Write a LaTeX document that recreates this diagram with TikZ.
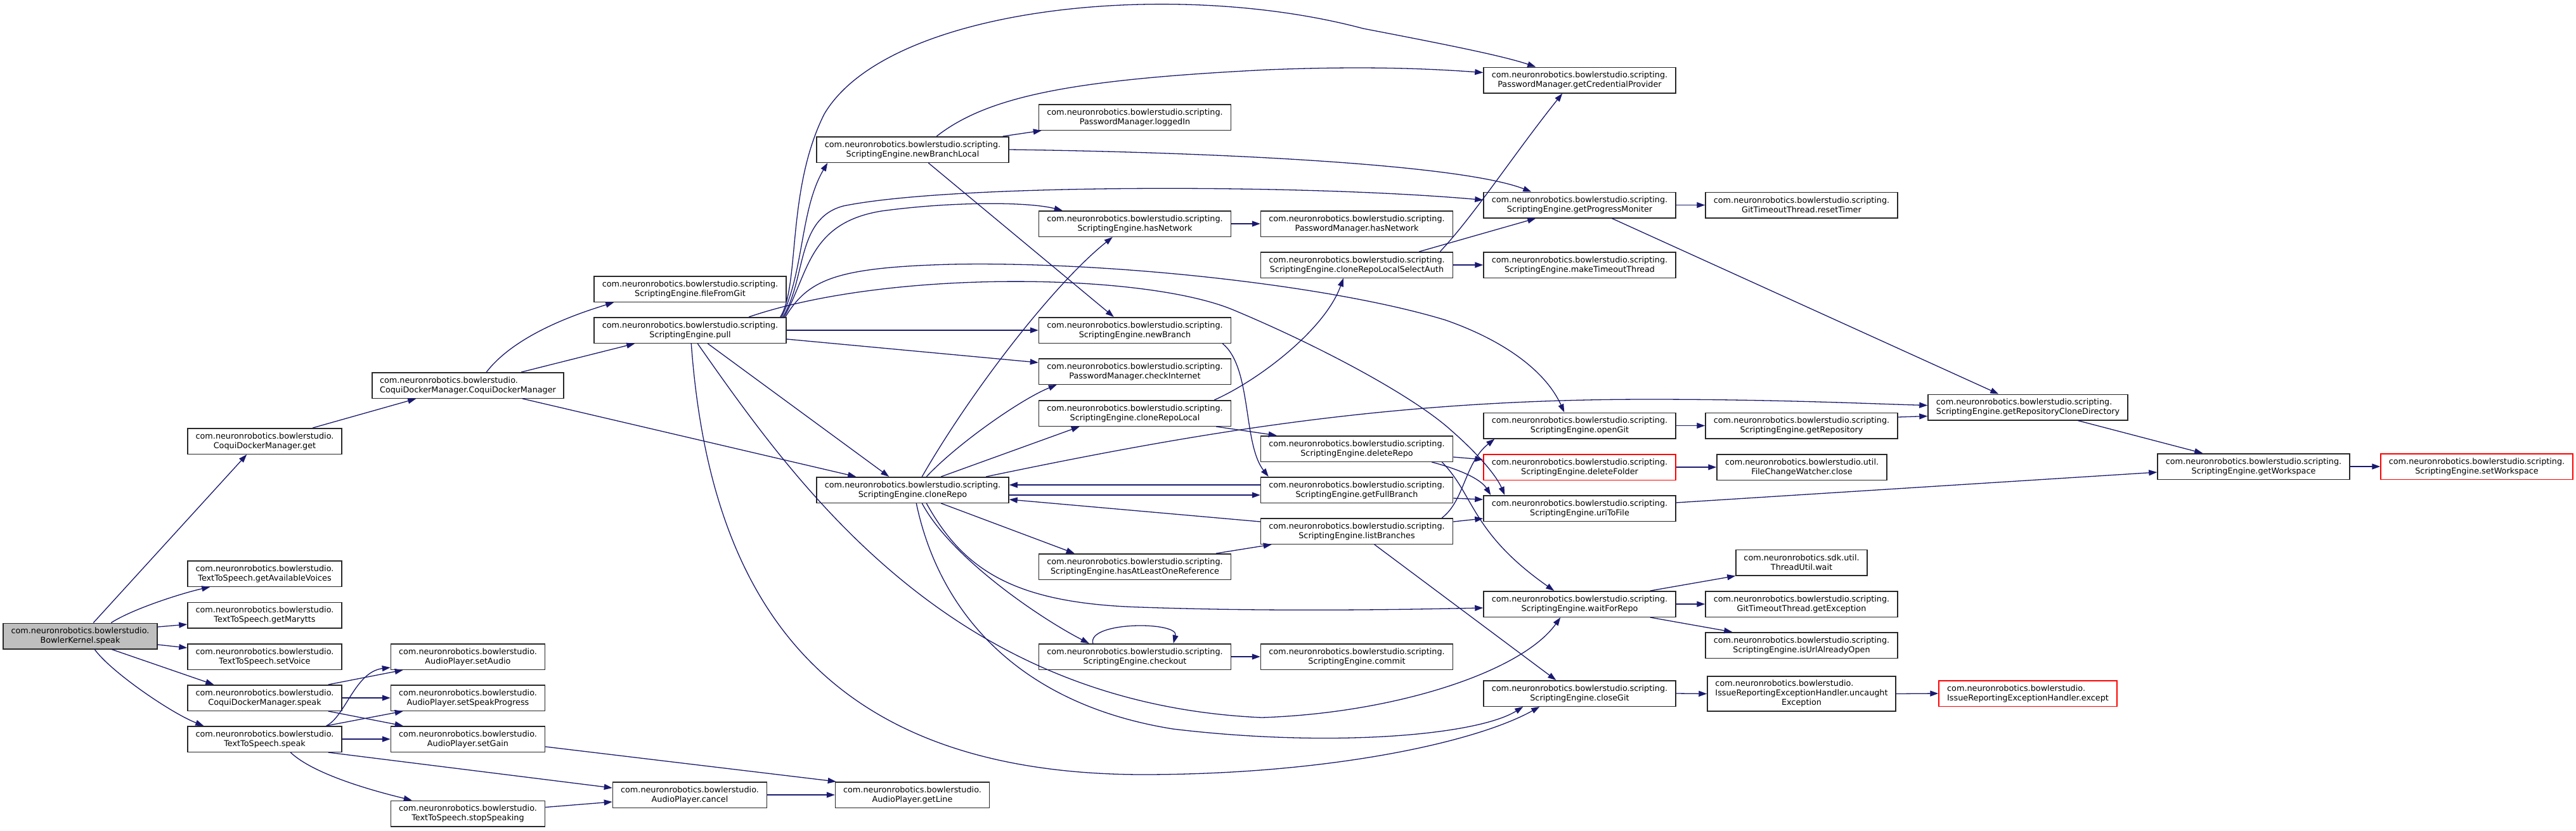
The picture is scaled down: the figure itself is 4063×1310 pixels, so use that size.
\documentclass[tikz,border=0pt]{standalone}
\usepackage{fontspec}
\setmainfont{DejaVu Sans}
\usepackage{xcolor}
\usetikzlibrary{arrows.meta}
\definecolor{edgeblue}{RGB}{25,25,112}
\definecolor{rootgray}{RGB}{191,191,191}
\definecolor{boxline}{RGB}{40,40,40}
\newcommand{\fnfont}{\fontsize{12.8}{15}\selectfont}

\begin{document}
\begin{tikzpicture}[
    x=1pt, y=-1pt,
    fn/.style={draw=boxline,line width=1.5pt,fill=white,inner sep=0pt,
               minimum height=40.5pt,align=center,font=\fnfont},
    bs/.style={fn,minimum width=243pt},
    sc/.style={fn,minimum width=303pt},
    root/.style={fill=rootgray},
    trunc/.style={draw=red},
    call/.style={edgeblue,line width=1.3pt,-{Triangle[length=13pt,width=9pt]}},
  ]

  \fill[white] (0,0) rectangle (4063,1310);
  \useasboundingbox (0,0) rectangle (4063,1310);

  % speech side
  \node[bs,root] (bk) at (126.5,1003.5) {com.neuronrobotics.bowlerstudio.\\BowlerKernel.speak};
  \node[bs] (cdmget)   at (417.5,696)    {com.neuronrobotics.bowlerstudio.\\CoquiDockerManager.get};
  \node[fn,minimum width=302pt,align=left] (cdmctor) at (738,608)
        {com.neuronrobotics.bowlerstudio.\\CoquiDockerManager.CoquiDockerManager};
  \node[bs] (voices)   at (417.5,905)    {com.neuronrobotics.bowlerstudio.\\TextToSpeech.getAvailableVoices};
  \node[bs] (marytts)  at (417.5,970.5)  {com.neuronrobotics.bowlerstudio.\\TextToSpeech.getMarytts};
  \node[bs] (setvoice) at (417.5,1036)   {com.neuronrobotics.bowlerstudio.\\TextToSpeech.setVoice};
  \node[bs] (cdmspeak) at (417.5,1101)   {com.neuronrobotics.bowlerstudio.\\CoquiDockerManager.speak};
  \node[bs] (ttsspeak) at (417.5,1166)   {com.neuronrobotics.bowlerstudio.\\TextToSpeech.speak};
  \node[bs] (setaudio) at (738,1036)     {com.neuronrobotics.bowlerstudio.\\AudioPlayer.setAudio};
  \node[bs] (setprog)  at (738,1101)     {com.neuronrobotics.bowlerstudio.\\AudioPlayer.setSpeakProgress};
  \node[bs] (setgain)  at (738,1166)     {com.neuronrobotics.bowlerstudio.\\AudioPlayer.setGain};
  \node[bs] (stopspk)  at (738,1283.5)   {com.neuronrobotics.bowlerstudio.\\TextToSpeech.stopSpeaking};
  \node[bs] (cancel)   at (1088,1254)    {com.neuronrobotics.bowlerstudio.\\AudioPlayer.cancel};
  \node[bs] (getline)  at (1439,1254)    {com.neuronrobotics.bowlerstudio.\\AudioPlayer.getLine};

  % scripting engine
  \node[sc] (fromgit)    at (1088.5,456)  {com.neuronrobotics.bowlerstudio.scripting.\\ScriptingEngine.fileFromGit};
  \node[sc] (pull)       at (1088.5,521)  {com.neuronrobotics.bowlerstudio.scripting.\\ScriptingEngine.pull};
  \node[sc] (nbl)        at (1439.5,236)  {com.neuronrobotics.bowlerstudio.scripting.\\ScriptingEngine.newBranchLocal};
  \node[sc] (clonerepo)  at (1439.5,773)  {com.neuronrobotics.bowlerstudio.scripting.\\ScriptingEngine.cloneRepo};
  \node[sc] (loggedin)   at (1790,185)    {com.neuronrobotics.bowlerstudio.scripting.\\PasswordManager.loggedIn};
  \node[sc] (hasnet)     at (1790,353)    {com.neuronrobotics.bowlerstudio.scripting.\\ScriptingEngine.hasNetwork};
  \node[sc] (newbranch)  at (1790,521)    {com.neuronrobotics.bowlerstudio.scripting.\\ScriptingEngine.newBranch};
  \node[sc] (checkinet)  at (1790,586)    {com.neuronrobotics.bowlerstudio.scripting.\\PasswordManager.checkInternet};
  \node[sc] (clonelocal) at (1790,652)    {com.neuronrobotics.bowlerstudio.scripting.\\ScriptingEngine.cloneRepoLocal};
  \node[sc] (hasref)     at (1790,894)    {com.neuronrobotics.bowlerstudio.scripting.\\ScriptingEngine.hasAtLeastOneReference};
  \node[sc] (checkout)   at (1790,1036)   {com.neuronrobotics.bowlerstudio.scripting.\\ScriptingEngine.checkout};
  \node[sc] (pmhasnet)   at (2140,353)    {com.neuronrobotics.bowlerstudio.scripting.\\PasswordManager.hasNetwork};
  \node[sc] (selauth)    at (2140,418)    {com.neuronrobotics.bowlerstudio.scripting.\\ScriptingEngine.cloneRepoLocalSelectAuth};
  \node[sc] (delrepo)    at (2140,708)    {com.neuronrobotics.bowlerstudio.scripting.\\ScriptingEngine.deleteRepo};
  \node[sc] (fullbranch) at (2140,773)    {com.neuronrobotics.bowlerstudio.scripting.\\ScriptingEngine.getFullBranch};
  \node[sc] (listbr)     at (2140,838)    {com.neuronrobotics.bowlerstudio.scripting.\\ScriptingEngine.listBranches};
  \node[sc] (commit)     at (2140,1036)   {com.neuronrobotics.bowlerstudio.scripting.\\ScriptingEngine.commit};
  \node[sc] (credprov)   at (2491.5,126.5) {com.neuronrobotics.bowlerstudio.scripting.\\PasswordManager.getCredentialProvider};
  \node[sc] (progmon)    at (2491.5,323.5) {com.neuronrobotics.bowlerstudio.scripting.\\ScriptingEngine.getProgressMoniter};
  \node[sc] (timeout)    at (2491.5,418)   {com.neuronrobotics.bowlerstudio.scripting.\\ScriptingEngine.makeTimeoutThread};
  \node[sc] (opengit)    at (2491.5,671.5) {com.neuronrobotics.bowlerstudio.scripting.\\ScriptingEngine.openGit};
  \node[sc,trunc] (delfolder) at (2491.5,737) {com.neuronrobotics.bowlerstudio.scripting.\\ScriptingEngine.deleteFolder};
  \node[sc] (uritofile)  at (2491.5,802)   {com.neuronrobotics.bowlerstudio.scripting.\\ScriptingEngine.uriToFile};
  \node[sc] (waitrepo)   at (2491.5,953)   {com.neuronrobotics.bowlerstudio.scripting.\\ScriptingEngine.waitForRepo};
  \node[sc] (closegit)   at (2491.5,1094)  {com.neuronrobotics.bowlerstudio.scripting.\\ScriptingEngine.closeGit};
  \node[sc] (resettimer) at (2841.5,323.5) {com.neuronrobotics.bowlerstudio.scripting.\\GitTimeoutThread.resetTimer};
  \node[sc] (getrepo)    at (2841.5,671.5) {com.neuronrobotics.bowlerstudio.scripting.\\ScriptingEngine.getRepository};
  \node[fn,minimum width=268pt] (fcwclose) at (2842,737) {com.neuronrobotics.bowlerstudio.util.\\FileChangeWatcher.close};
  \node[fn,minimum width=207pt] (tuwait) at (2841.5,887.5) {com.neuronrobotics.sdk.util.\\ThreadUtil.wait};
  \node[sc] (getexc)     at (2841.5,953)   {com.neuronrobotics.bowlerstudio.scripting.\\GitTimeoutThread.getException};
  \node[sc] (urlopen)    at (2841.5,1018)  {com.neuronrobotics.bowlerstudio.scripting.\\ScriptingEngine.isUrlAlreadyOpen};
  \node[fn,minimum width=297pt,minimum height=55pt] (uncaught) at (2841.5,1094.5)
        {\begin{tabular}{@{}l@{}}com.neuronrobotics.bowlerstudio.\\IssueReportingExceptionHandler.uncaught\\
         \multicolumn{1}{@{}c@{}}{Exception}\end{tabular}};
  \node[fn,minimum width=315pt,align=left] (clonedir) at (3198.5,642.5)
        {com.neuronrobotics.bowlerstudio.scripting.\\ScriptingEngine.getRepositoryCloneDirectory};
  \node[fn,minimum width=281pt,align=left,trunc] (except) at (3198.5,1094)
        {com.neuronrobotics.bowlerstudio.\\IssueReportingExceptionHandler.except};
  \node[sc] (getws)      at (3554.5,736)   {com.neuronrobotics.bowlerstudio.scripting.\\ScriptingEngine.getWorkspace};
  \node[sc,trunc] (setws) at (3906.5,736)  {com.neuronrobotics.bowlerstudio.scripting.\\ScriptingEngine.setWorkspace};

  % straight side-to-side calls
  \foreach \a/\b in {cdmspeak/setprog,ttsspeak/setgain,cancel/getline,pull/newbranch,
                     hasnet/pmhasnet,selauth/timeout,progmon/resettimer,opengit/getrepo,
                     delfolder/fcwclose,getws/setws,waitrepo/getexc,closegit/uncaught,
                     uncaught/except,checkout/commit}
    \draw[call] (\a.east) -- (\b.west);

  % BowlerKernel.speak
  \draw[call] ([xshift=143pt]bk.north west) -- ([xshift=94pt]cdmget.south west);
  \draw[call] ([xshift=171pt]bk.north west) .. controls (210,960) and (290,935) .. ([xshift=36pt]voices.south west);
  \draw[call] ([yshift=14.5pt]bk.east) -- ([yshift=-14.5pt]marytts.west);
  \draw[call] ([yshift=-13.5pt]bk.east) -- ([yshift=14pt]setvoice.west);
  \draw[call] ([xshift=172pt]bk.south west) -- ([xshift=42pt]cdmspeak.north west);
  \draw[call] ([xshift=145pt]bk.south west) .. controls (175,1060) and (270,1125) .. ([xshift=26pt]ttsspeak.north west);

  % CoquiDockerManager
  \draw[call] ([xshift=198pt]cdmget.north west) -- ([xshift=70pt]cdmctor.south west);
  \draw[call] ([xshift=181pt]cdmctor.north west) .. controls (815,525) and (920,492) .. ([xshift=32pt]fromgit.south west);
  \draw[call] ([xshift=236pt]cdmctor.north west) -- ([xshift=65pt]pull.south west);
  \draw[call] ([xshift=238pt]cdmctor.south west) -- ([xshift=63pt]clonerepo.north west);
  \draw[call] ([xshift=-22pt]cdmspeak.north east) -- ([xshift=20pt]setaudio.south west);
  \draw[call] ([xshift=-22pt]cdmspeak.south east) -- ([xshift=20pt]setgain.north west);

  % TextToSpeech.speak
  \draw[call] ([xshift=-25pt]ttsspeak.north east) .. controls (545,1130) and (560,1060) .. ([yshift=-17pt]setaudio.west);
  \draw[call] ([xshift=-25pt]ttsspeak.north east) -- ([xshift=20pt]setprog.south west);
  \draw[call] ([xshift=-22pt]ttsspeak.south east) -- ([yshift=11pt]cancel.west);
  \draw[call] ([xshift=163pt]ttsspeak.south west) .. controls (495,1222) and (590,1248) .. ([xshift=34pt]stopspk.north west);
  \draw[call] ([yshift=-12pt]setgain.east) -- ([xshift=2pt]getline.north west);
  \draw[call] ([yshift=10pt]stopspk.east) -- ([yshift=-11pt]cancel.west);

  % pull
  \draw[call] ([xshift=-10pt]pull.north east) .. controls (1262,450) and (1240,300) .. (1300,180)
              .. controls (1400,10) and (1850,-35) .. (2150,45)
              .. controls (2280,70) and (2370,88) .. ([xshift=83pt]credprov.north west);
  \draw[call] ([xshift=-8pt]pull.north east) .. controls (1268,430) and (1262,330) .. ([xshift=18pt]nbl.south west);
  \draw[call] ([xshift=-6pt]pull.north east) .. controls (1272,440) and (1255,345) .. (1330,325)
              .. controls (1500,290) and (2050,290) .. ([yshift=8pt]progmon.west);
  \draw[call] ([xshift=-4pt]pull.north east) .. controls (1276,430) and (1275,352) .. (1390,333)
              .. controls (1500,318) and (1620,318) .. ([xshift=38pt]hasnet.north west);
  \draw[call] ([xshift=-2pt]pull.north east) .. controls (1275,440) and (1320,422) .. (1500,417)
              .. controls (1750,412) and (2100,450) .. (2280,505)
              .. controls (2380,540) and (2440,590) .. ([xshift=128pt]opengit.north west);
  \draw[call] ([xshift=245pt]pull.north west) .. controls (1400,425) and (1800,430) .. (1943,488)
              .. controls (2080,545) and (2230,625) .. (2290,680)
              .. controls (2330,715) and (2360,750) .. ([xshift=34pt]uritofile.north west);
  \draw[call] ([yshift=-14pt]pull.east) -- ([yshift=14pt]checkinet.west);
  \draw[call] ([xshift=180pt]pull.south west) -- ([xshift=115pt]clonerepo.north west);
  \draw[call] ([xshift=164pt]pull.south west) .. controls (1260,770) and (1500,1110) .. (1990,1132)
              .. controls (2200,1125) and (2400,1060) .. ([xshift=122pt]waitrepo.south west);
  \draw[call] ([xshift=154pt]pull.south west) .. controls (1120,950) and (1300,1220) .. (1800,1222)
              .. controls (2100,1222) and (2330,1170) .. ([xshift=89pt]closegit.south west);

  % newBranchLocal
  \draw[call] ([xshift=190pt]nbl.north west) .. controls (1560,150) and (1700,125) .. (2000,110)
              .. controls (2150,104) and (2250,108) .. ([yshift=12pt]credprov.west);
  \draw[call] ([xshift=-10pt]nbl.north east) -- ([xshift=5pt]loggedin.south west);
  \draw[call] (nbl.east) .. controls (1900,240) and (2300,258) .. ([xshift=76pt]progmon.north west);
  \draw[call] ([xshift=177pt]nbl.south west) -- ([xshift=119pt]newbranch.north west);

  % cloneRepo
  \draw[call] ([xshift=167pt]clonerepo.north west) .. controls (1530,620) and (1660,450) .. ([xshift=117pt]hasnet.south west);
  \draw[call] ([xshift=174pt]clonerepo.north west) .. controls (1510,700) and (1610,630) .. ([xshift=29pt]checkinet.south west);
  \draw[call] ([xshift=197pt]clonerepo.north west) -- ([xshift=65pt]clonelocal.south west);
  \draw[call] ([xshift=268pt]clonerepo.north west) .. controls (1900,680) and (2200,630) .. (2600,630)
              .. controls (2800,630) and (2950,637) .. ([yshift=3pt]clonedir.west);
  \draw[call] ([yshift=-8pt]clonerepo.east) -- ([yshift=-8pt]fullbranch.west);
  \draw[call] ([yshift=8pt]fullbranch.west) -- ([yshift=8pt]clonerepo.east);
  \draw[call] ([yshift=15pt]listbr.west) -- ([yshift=-15pt]clonerepo.east);
  \draw[call] ([xshift=197pt]clonerepo.south west) -- ([xshift=57pt]hasref.north west);
  \draw[call] ([xshift=167pt]clonerepo.south west) .. controls (1500,880) and (1640,975) .. ([xshift=80pt]checkout.north west);
  \draw[call] ([xshift=174pt]clonerepo.south west) .. controls (1520,900) and (1600,952) .. (1800,958)
              .. controls (2000,965) and (2200,962) .. ([yshift=-6pt]waitrepo.west);
  \draw[call] ([xshift=158pt]clonerepo.south west) .. controls (1480,960) and (1600,1110) .. (1850,1150)
              .. controls (2100,1180) and (2330,1160) .. ([xshift=63pt]closegit.south west);
  \draw[call] ([xshift=86pt]checkout.north west) .. controls (1715,980) and (1860,980) .. ([xshift=213pt]checkout.north west);

  % middle column
  \draw[call] ([xshift=-24pt]hasref.north east) -- ([xshift=18pt]listbr.south west);
  \draw[call] ([xshift=-14pt]newbranch.south east) .. controls (1975,580) and (1960,700) .. ([xshift=13pt]fullbranch.north west);
  \draw[call] ([xshift=-27pt]clonelocal.north east) .. controls (1985,600) and (2090,520) .. ([xshift=131pt]selauth.south west);
  \draw[call] ([xshift=-24pt]clonelocal.south east) -- ([xshift=26pt]delrepo.north west);
  \draw[call] ([xshift=-21pt]selauth.north east) .. controls (2325,340) and (2390,240) .. ([xshift=125pt]credprov.south west);
  \draw[call] ([xshift=-54pt]selauth.north east) -- ([xshift=83pt]progmon.south west);
  \draw[call] ([yshift=-13pt]delrepo.east) -- ([yshift=12pt]delfolder.west);
  \draw[call] ([xshift=-34pt]delrepo.south east) .. controls (2300,740) and (2335,755) .. ([xshift=12pt]uritofile.north west);
  \draw[call] ([xshift=-18pt]delrepo.south east) .. controls (2325,780) and (2320,840) .. ([xshift=112pt]waitrepo.north west);
  \draw[call] ([yshift=-13pt]fullbranch.east) -- ([yshift=14pt]uritofile.west);
  \draw[call] ([yshift=15pt]listbr.east) -- ([yshift=-16pt]uritofile.west);
  \draw[call] ([xshift=-18pt]listbr.north east) .. controls (2310,790) and (2310,730) .. ([xshift=18pt]opengit.south west);
  \draw[call] ([xshift=180pt]listbr.south west) -- ([xshift=115pt]closegit.north west);

  % right side
  \draw[call] ([xshift=203pt]progmon.south west) -- ([xshift=112pt]clonedir.north west);
  \draw[call] ([yshift=13.5pt]getrepo.east) -- ([yshift=-14pt]clonedir.west);
  \draw[call] ([yshift=9pt]uritofile.east) -- ([yshift=-9pt]getws.west);
  \draw[call] ([xshift=237pt]clonedir.south west) -- ([xshift=72pt]getws.north west);
  \draw[call] ([xshift=-41pt]waitrepo.north east) -- (tuwait.south west);
  \draw[call] ([xshift=-41pt]waitrepo.south east) -- ([xshift=43pt]urlopen.north west);

\end{tikzpicture}
\end{document}
